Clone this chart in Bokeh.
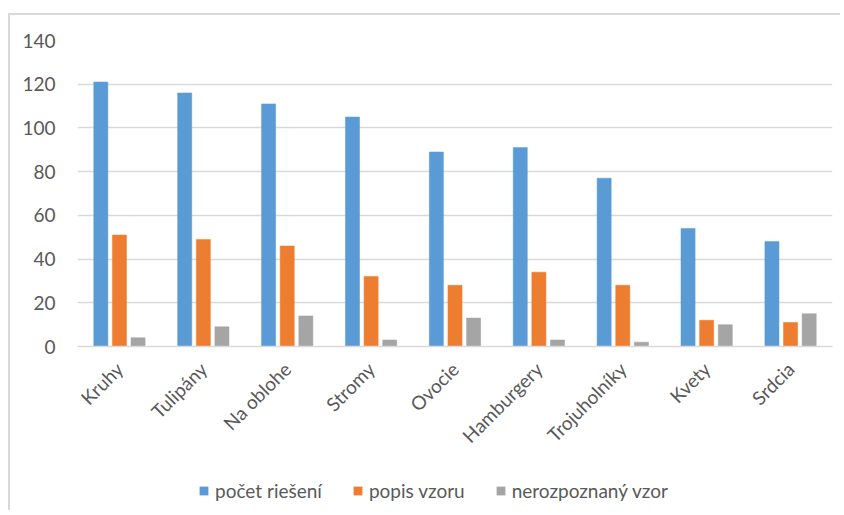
import math
from bokeh.plotting import figure
from bokeh.layouts import column
from bokeh.models import ColumnDataSource, FactorRange, Range1d, Legend, LegendItem, FixedTicker
from bokeh.transform import dodge
from bokeh.embed import file_html
from bokeh.resources import INLINE

categories = ["Kruhy", "Tulipány", "Na oblohe", "Stromy", "Ovocie",
              "Hamburgery", "Trojuholníky", "Kvety", "Srdcia"]
pocet_rieseni = [121, 116, 111, 105, 89, 91, 77, 54, 48]
popis_vzoru = [51, 49, 46, 32, 28, 34, 28, 12, 11]
nerozpoznany_vzor = [4, 9, 14, 3, 13, 3, 2, 10, 15]
series_names = ["počet riešení", "popis vzoru", "nerozpoznaný vzor"]
y_ticks = [0, 20, 40, 60, 80, 100, 120, 140]

colors = ["#5B9BD5", "#ED7D31", "#A5A5A5"]
FONT = "Lato"
TXT = "#595959"
GRID = "#D9D9D9"

src = ColumnDataSource(dict(cat=categories, a=pocet_rieseni, b=popis_vzoru, c=nerozpoznany_vzor))

p = figure(width=830, height=455, x_range=FactorRange(*categories, range_padding=0),
           y_range=Range1d(0, 140), output_backend="svg", toolbar_location=None,
           min_border_left=67, min_border_right=8, min_border_top=25, min_border_bottom=124)
p.outline_line_color = None
p.background_fill_color = "white"
p.border_fill_color = "white"

for col, off, colr in zip(["a", "b", "c"], [-0.222, 0.0, 0.222], colors):
    p.vbar(x=dodge("cat", off, range=p.x_range), top=col, width=0.168, source=src,
           fill_color=colr, line_color=colr, line_width=0.5)

p.xgrid.grid_line_color = None
p.ygrid.grid_line_color = GRID
p.ygrid.grid_line_width = 1.5
p.yaxis.ticker = FixedTicker(ticks=y_ticks)
p.yaxis.axis_line_color = None
p.yaxis.major_tick_line_color = None
p.yaxis.minor_tick_line_color = None
p.yaxis.major_label_standoff = 16
p.xaxis.axis_line_color = GRID
p.xaxis.axis_line_width = 1.5
p.xaxis.major_tick_line_color = None
p.xaxis.major_label_orientation = math.pi / 4
p.xaxis.major_label_standoff = 13
for ax in (p.xaxis, p.yaxis):
    ax.major_label_text_font = FONT
    ax.major_label_text_font_size = "19px"
    ax.major_label_text_color = TXT

# legend strip below the chart (its frame is aligned with the chart's frame)
pl = figure(width=830, height=40, x_range=Range1d(0, 1), y_range=Range1d(0, 1),
            output_backend="svg", toolbar_location=None, x_axis_type=None, y_axis_type=None,
            min_border_left=0, min_border_right=0, min_border_top=0, min_border_bottom=0)
pl.outline_line_color = None
pl.border_fill_color = "white"
pl.background_fill_color = "white"
# swatch renderers: one point each, far outside the strip's visible range
dummy = [pl.vbar(x=[-10], top=[-10], bottom=[-11], width=0.1, fill_color=c,
                 line_color=c, line_alpha=0) for c in colors]
legend = Legend(items=[LegendItem(label=n, renderers=[r]) for n, r in zip(series_names, dummy)],
                orientation="horizontal", location=(121, 8),
                glyph_width=11, glyph_height=11, label_standoff=6, spacing=30,
                padding=0, margin=0, border_line_color=None, background_fill_alpha=0,
                label_text_font=FONT, label_text_font_size="19px", label_text_color=TXT)
pl.add_layout(legend, "center")

layout = column(p, pl, spacing=0)
layout.styles = {"margin-left": "8px", "margin-top": "13px",
                 "border-left": "2px solid #D9D9D9", "border-top": "2px solid #D9D9D9"}

open("out.html", "w").write(file_html(layout, INLINE))
